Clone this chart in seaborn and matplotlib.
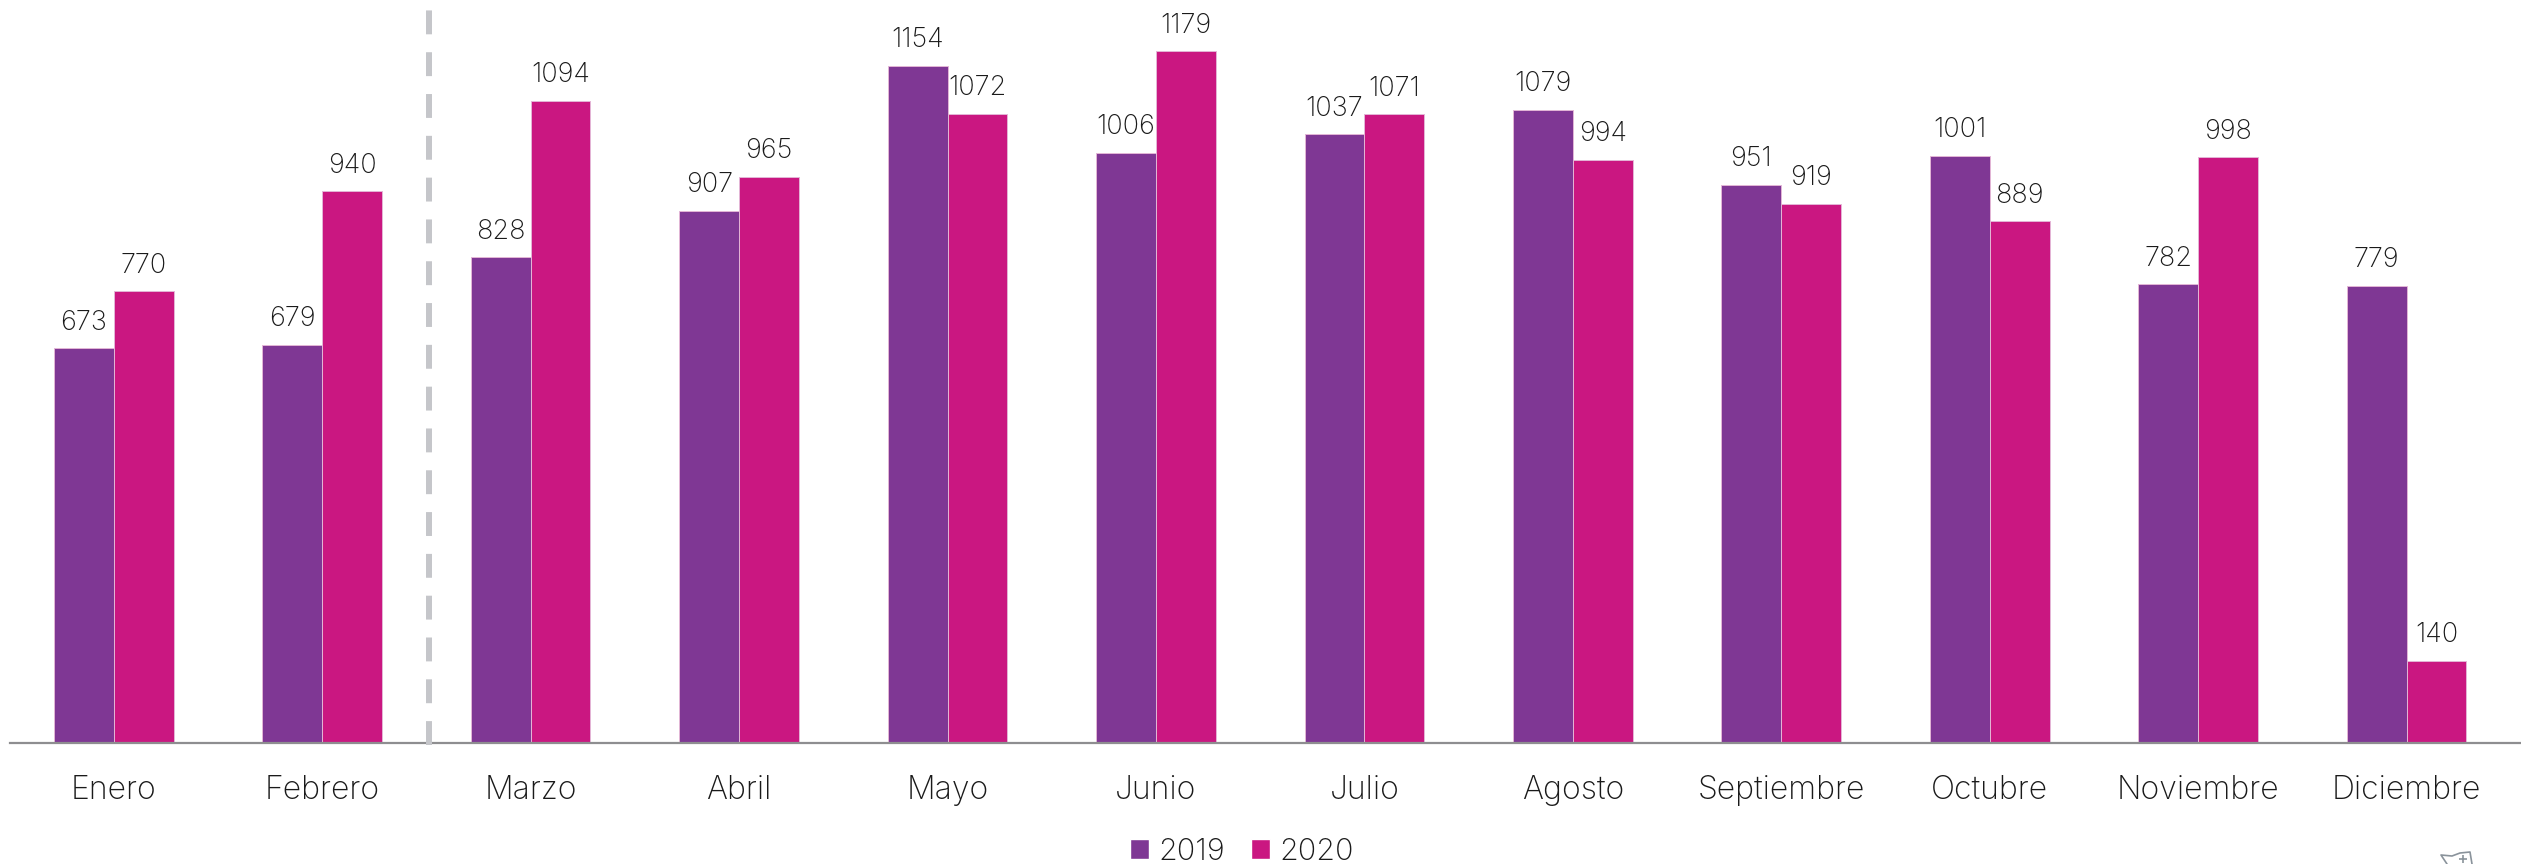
import pandas as pd
import numpy as np
from matplotlib import pyplot as plt
from matplotlib.lines import Line2D
from matplotlib.patches import Patch
import seaborn as sns

months = ['Enero', 'Febrero', 'Marzo', 'Abril', 'Mayo', 'Junio', 'Julio', 'Agosto',
          'Septiembre', 'Octubre', 'Noviembre', 'Diciembre']
values_2019 = [673, 679, 828, 907, 1154, 1006, 1037, 1079, 951, 1001, 782, 779]
values_2020 = [770, 940, 1094, 965, 1072, 1179, 1071, 994, 919, 889, 998, 140]
colors = {'2019': '#7F3794', '2020': '#CA1781'}

df = pd.DataFrame({
    'mes': months * 2,
    'casos': values_2019 + values_2020,
    'anio': ['2019'] * 12 + ['2020'] * 12,
})

sns.set_theme(style='white')
plt.rcParams['font.family'] = ['Inter', 'DejaVu Sans']
W, H = 2521, 864
fig = plt.figure(figsize=(W / 100, H / 100), dpi=100)
ax = fig.add_axes([10 / W, (H - 743) / H, (W - 10) / W, 743 / H])

sns.barplot(data=df, x='mes', y='casos', hue='anio', palette=colors, width=0.574,
            saturation=1, edgecolor='#E3B6D6', linewidth=0.7, legend=False, ax=ax)

for c in ax.containers:
    ax.bar_label(c, padding=9, fontsize=19.5, color='#1a1a1a', fontweight='light')

ax.set_xlim(-0.498, 11.549)
ax.set_ylim(0, 1266)
ax.set_xlabel('')
ax.set_ylabel('')
ax.set_yticks([])
ax.tick_params(axis='x', length=0, pad=23, labelsize=23, labelcolor='#1a1a1a')
for t in ax.get_xticklabels():
    t.set_fontweight('light')
sns.despine(ax=ax, left=True)
ax.spines['bottom'].set_color('#8E8E90')
ax.spines['bottom'].set_linewidth(1.6)

# linea de corte entre febrero y marzo
ax.axvline(1.514, ymin=-0.003, ymax=1 - 7 / 743, color='#C5C6CA', lw=4.3,
           dashes=(4, 3), clip_on=False, zorder=5)

handles = [Patch(facecolor=colors[k], label=k) for k in colors]
fig.legend(handles=handles, loc='center', bbox_to_anchor=(1242 / W, 1 - 852 / H), ncol=2,
           frameon=False, handlelength=0.62, handleheight=0.62,
           handletextpad=0.33, columnspacing=0.82, labelcolor='#1a1a1a',
           prop={'size': 22, 'weight': 'light'})

# logo recortado abajo a la derecha
logo = [(2447, 864), (2441, 855), (2452, 856), (2460, 853), (2470, 852), (2472, 864)]
fig.add_artist(Line2D([p[0] / W for p in logo], [1 - p[1] / H for p in logo],
                      color='#8A939B', lw=1.2))
fig.add_artist(Line2D([2463 / W], [1 - 859 / H], marker='+', ms=6, mew=1.2, color='#8A939B'))

fig.savefig('out.png', dpi=100)
